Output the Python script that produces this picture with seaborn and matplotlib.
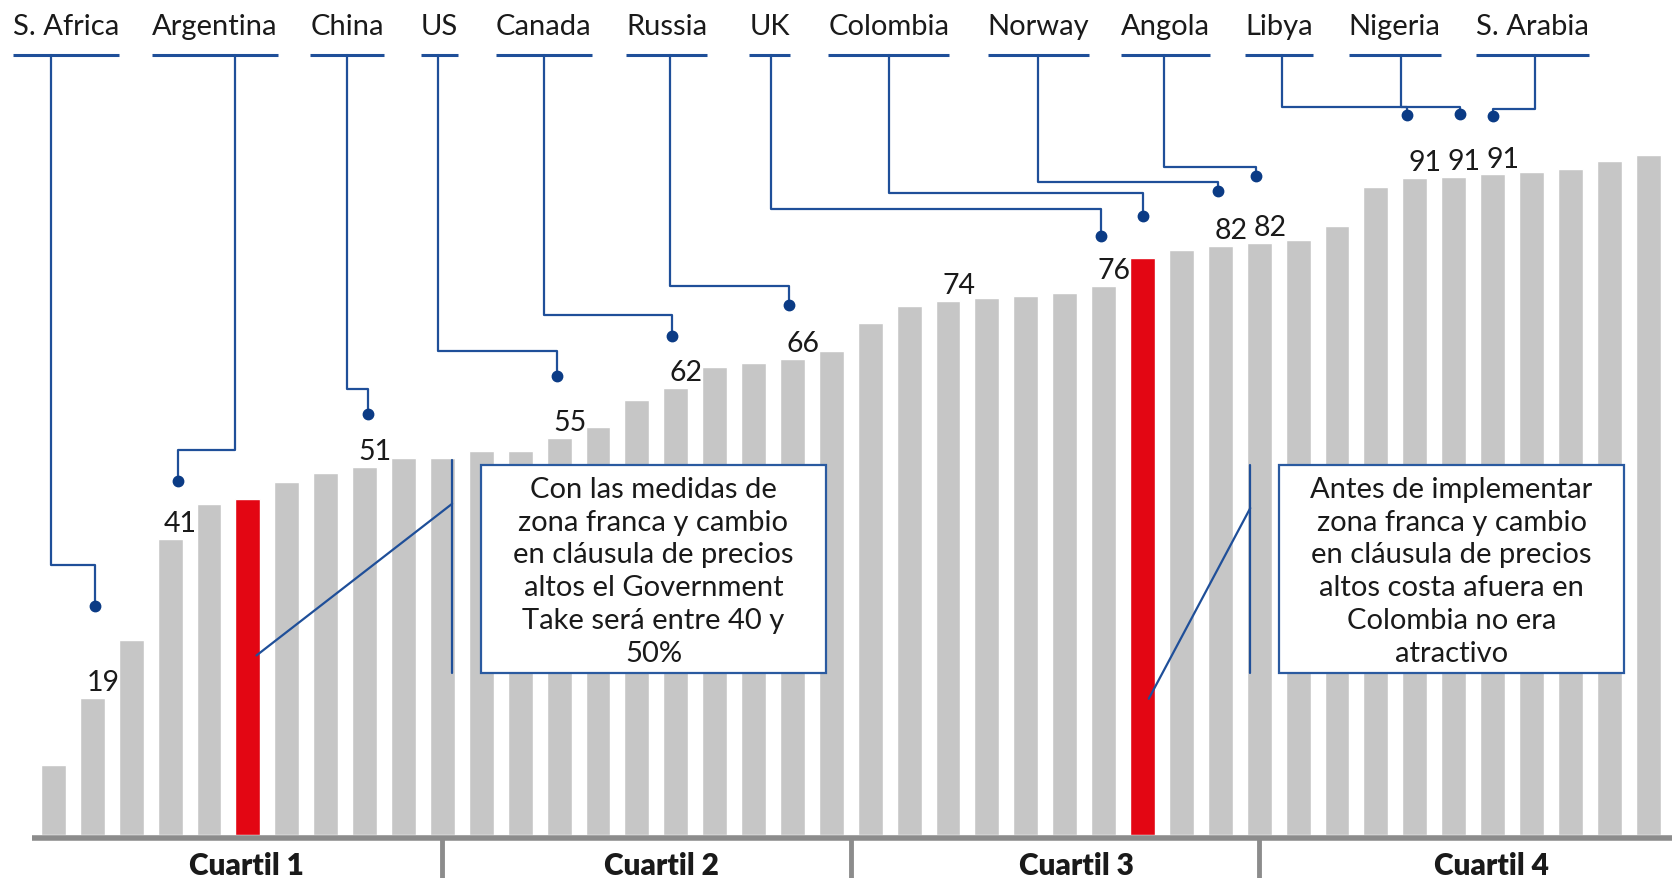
import pandas as pd
import seaborn as sns
import matplotlib.pyplot as plt
from matplotlib.patches import Rectangle

# Government take por pais (ordenado de menor a mayor)
take = [9.7, 19, 27.1, 41, 45.9, 46.5, 48.9, 50.2, 51, 52.3, 52.3, 53.2, 53.2, 55,
        56.6, 60.3, 62, 64.8, 65.4, 66, 67, 71, 73.3, 74, 74.4, 74.7, 75.1, 76,
        80, 81, 81.6, 82, 82.4, 84.3, 89.8, 91, 91.1, 91.5, 91.8, 92.3, 93.3, 94.2]
red_bars = [5, 28]
label_bars = [1, 3, 8, 13, 16, 19, 23, 27, 30, 31, 35, 36, 37]
label_texts = ["19", "41", "51", "55", "62", "66", "74", "76", "82", "82", "91", "91", "91"]
countries = ["S. Africa", "Argentina", "China", "US", "Canada", "Russia", "UK",
             "Colombia", "Norway", "Angola", "Libya", "Nigeria", "S. Arabia"]
country_bar = [1, 3, 8, 13, 16, 19, 27, 28, 30, 31, 36, 35, 37]
quartiles = ["Cuartil 1", "Cuartil 2", "Cuartil 3", "Cuartil 4"]
note_left = ("Con las medidas de\nzona franca y cambio\nen cláusula de precios\n"
             "altos el Government\nTake será entre 40 y\n50%")
note_right = ("Antes de implementar\nzona franca y cambio\nen cláusula de precios\n"
              "altos costa afuera en\nColombia no era\natractivo")

# layout of the callouts (bar units / value units)
label_x = [0.33, 4.15, 7.55, 9.92, 12.61, 15.77, 18.41, 21.48, 25.33, 28.6, 31.51, 34.48, 38.02]
stem_x = [-0.05, 4.67, 7.55, 9.89, 12.61, 15.85, 18.46, 21.48, 25.3, 28.54, 31.59, 34.64, 38.08]
elbow_y = [37.4, 53.3, 61.8, 67.0, 72.0, 76.0, 86.7, 88.9, 90.5, 92.6, 100.9, 100.9, 100.6]
dot_gap = [12.7, 8, 7.4, 8.6, 7.1, 7.4, 7, 5.7, 7.6, 9.3, 8.8, 8.7, 8.1]
dot_shift = [0.07, 0.2, 0.1, -0.06, -0.1, -0.1, -0.08, 0, -0.05, -0.07, 0.15, -0.2, 0]

gray = "#c6c6c6"
red = "#e30613"
blue = "#1f4f99"
dot_blue = "#0b3b85"
axis_gray = "#8c8c8c"
ink = "#1a1a1a"

df = pd.DataFrame({"pos": range(len(take)), "take": take})
df["grupo"] = ["rojo" if i in red_bars else "gris" for i in df["pos"]]

sns.set_theme(style="white")
plt.rcParams["font.family"] = ["Lato", "DejaVu Sans"]

fig = plt.figure(figsize=(16.75, 8.79), dpi=100)
ax = fig.add_axes([0, 0, 1, 1])
sns.barplot(data=df, x="pos", y="take", hue="grupo", palette={"gris": gray, "rojo": red},
            dodge=False, width=0.64, saturation=1, legend=False, ax=ax, zorder=2)
ax.set_xlim(-1.374, 41.69)
ax.set_ylim(-5.92, 115.8)
ax.set_axis_off()

# value labels
for b, t in zip(label_bars, label_texts):
    ax.text(b + 0.27, take[b] + 1.1, t, ha="center", va="baseline", fontsize=20.5, color=ink)

# base line and quartile separators
n = len(take)
ax.plot([-0.55, n - 0.38], [-0.45, -0.45], color=axis_gray, lw=4, solid_capstyle="butt", zorder=3)
step = n / 4
for q in range(1, 4):
    xs = q * step - 0.5
    ax.plot([xs, xs], [-0.45, -6], color=axis_gray, lw=3.5, solid_capstyle="butt", zorder=3)
for q, name in enumerate(quartiles):
    mid = (q * step - 0.5 + (q + 1) * step - 0.5) / 2 + 0.2 + 0.17 * q
    ax.text(mid, -5.3, name, ha="center", va="baseline", fontsize=21.5, fontweight="heavy", color=ink)

# country callouts
fig.canvas.draw()
inv = ax.transData.inverted()
for i, name in enumerate(countries):
    t = ax.text(label_x[i], 110.9, name, ha="center", va="baseline", fontsize=21, color=ink)
    bb = t.get_window_extent(fig.canvas.get_renderer())
    x0 = inv.transform((bb.x0, bb.y0))[0]
    x1 = inv.transform((bb.x1, bb.y0))[0]
    ax.plot([x0, x1], [108, 108], color=blue, lw=2.2, solid_capstyle="butt", zorder=4)
    bx = country_bar[i] + dot_shift[i]
    dy = take[country_bar[i]] + dot_gap[i]
    ax.plot([stem_x[i], stem_x[i], bx, bx], [108, elbow_y[i], elbow_y[i], dy],
            color=blue, lw=1.6, zorder=4)
    ax.plot(bx, dy, "o", color=dot_blue, ms=7.5, zorder=5)

# notes
for (bx0, bx1), txt, (sx, sy0, sy1), (px, py) in [
        ((10.99, 19.86), note_left, (10.25, 51.9, 22.5), (5.22, 24.9)),
        ((31.51, 40.38), note_right, (30.77, 51.3, 22.5), (28.16, 18.9))]:
    ax.add_patch(Rectangle((bx0, 22.5), bx1 - bx0, 28.8, facecolor="white",
                           edgecolor="#2a5aa0", lw=1.6, zorder=6))
    ax.text((bx0 + bx1) / 2, 36.6, txt, ha="center", va="center", fontsize=21,
            linespacing=1.33, color=ink, zorder=7)
    ax.plot([sx, sx], [sy0, sy1], color=blue, lw=1.6, zorder=6)
    ax.plot([sx, px], [sy0 - 6, py], color=blue, lw=1.6, zorder=6)

plt.savefig("out.png", dpi=100)
